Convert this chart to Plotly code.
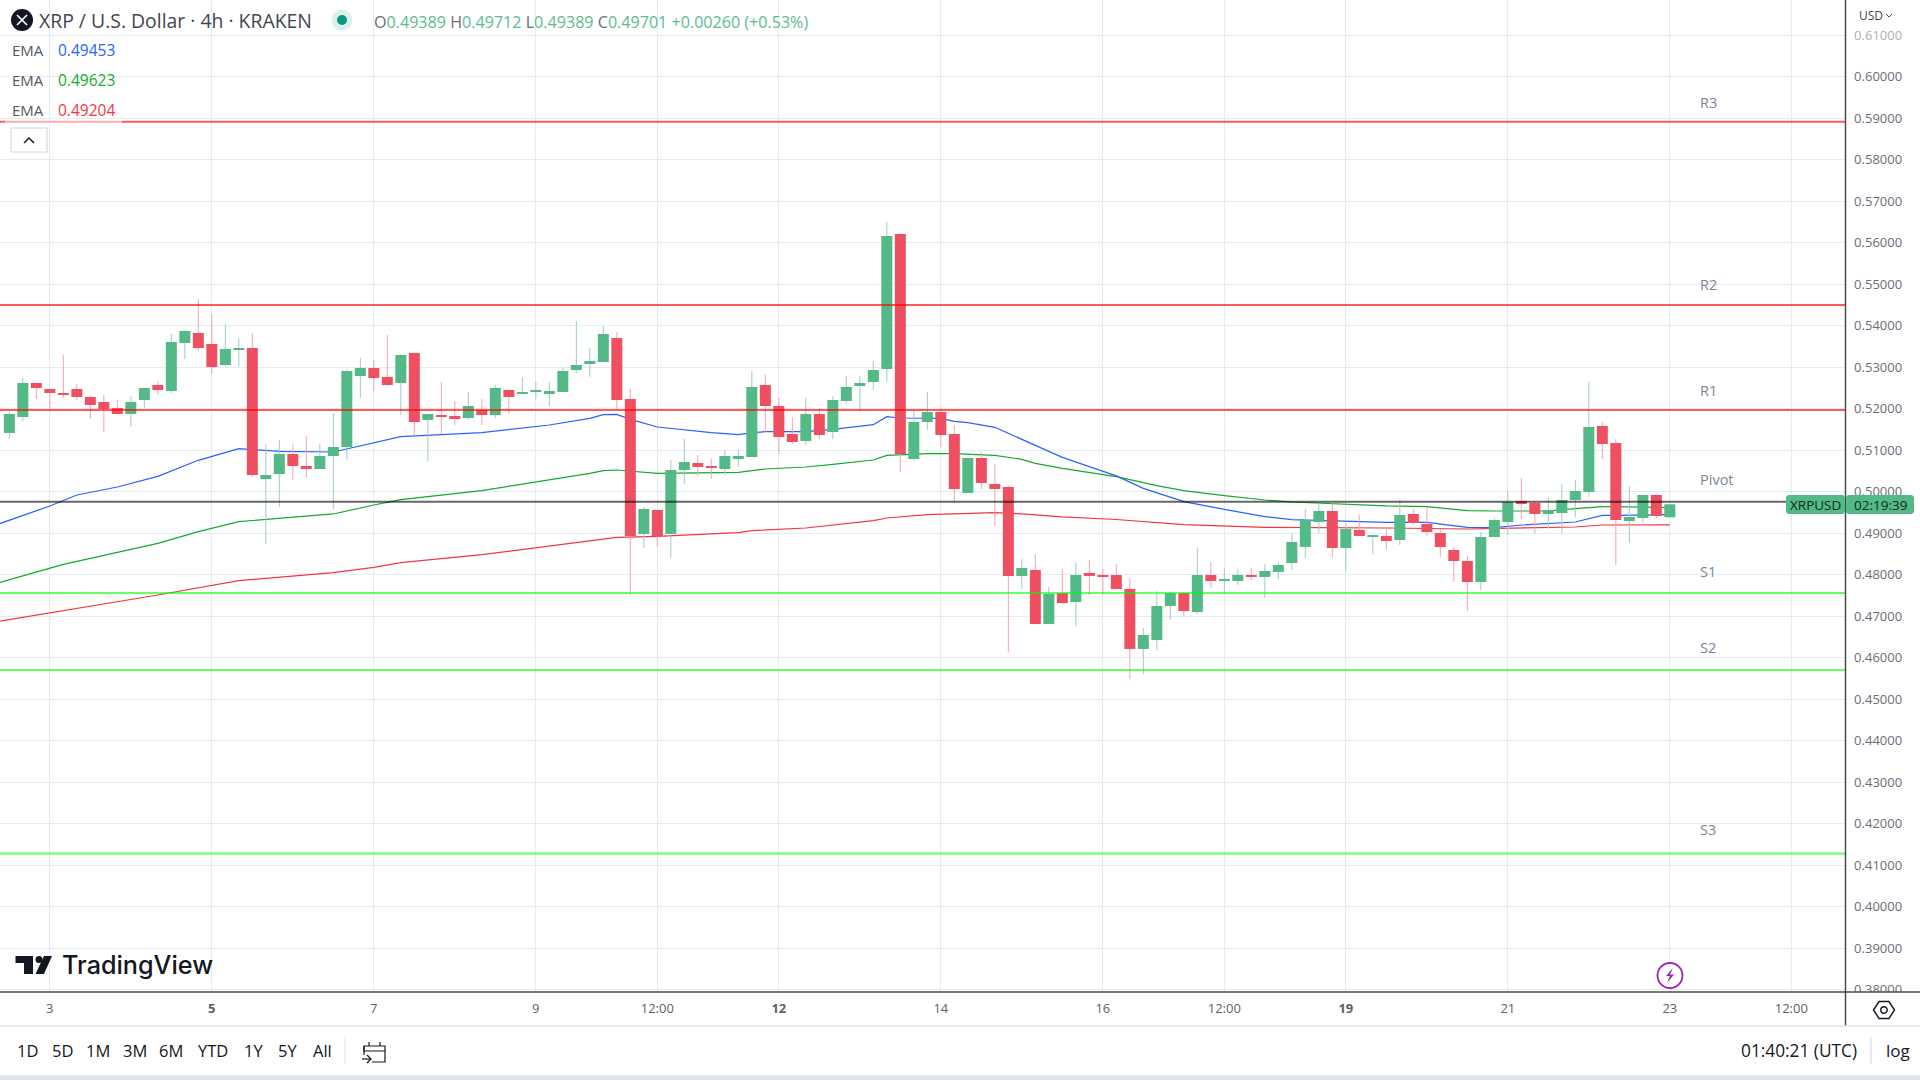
import plotly.graph_objects as go

# ---------- data ----------
opens = [.51419,.51805,.52624,.52480,.52383,.52480,.52287,.52166,.52022,.51877,.52215,.52576,.52431,.53588,.53829,.53564,.53058,.53419,.53467,.50311,
.50431,.50913,.50624,.50552,.50865,.51082,.52793,.52986,.52769,.52624,.53347,.51733,.51829,.51829,.51781,.51974,.51853,.52456,.52359,.52407,
.52359,.52407,.52937,.53082,.53130,.53708,.52239,.48986,.49564,.48986,.50528,.50697,.50600,.50552,.50793,.50841,.52576,.52070,.51395,.51227,
.51877,.51443,.52190,.52552,.52648,.52962,.56215,.50793,.51685,.51926,.51395,.49974,.50817,.50191,.50118,.47974,.48118,.46817,.47564,.47347,
.48046,.47974,.47998,.47661,.46215,.46432,.47251,.47564,.47106,.47998,.47853,.47853,.47998,.47950,.48070,.48287,.48673,.49275,.49540,.48649,
.49082,.48914,.48938,.48841,.49468,.49226,.49009,.48600,.48335,.47829,.48913,.49274,.49780,.49732,.49467,.49491,.49804,.49997,.51588,.51178,
.49299,.49371,.49925,.49389]
highs = [.51933,.52745,.52624,.52480,.53299,.52600,.52311,.52335,.52215,.52311,.52504,.52672,.53805,.53901,.54648,.54287,.54046,.53684,.53829,.51154,
.51251,.51154,.51347,.51154,.51901,.52961,.53227,.53178,.53781,.53323,.53371,.51877,.52648,.52190,.52407,.52239,.52576,.52456,.52769,.52648,
.52648,.53010,.54118,.53467,.53998,.53853,.52480,.49636,.49564,.50769,.51275,.50889,.50793,.51010,.51010,.52913,.52817,.52263,.51805,.52263,
.52022,.52311,.52793,.52793,.53154,.56504,.56239,.51974,.52408,.52022,.51612,.50817,.50962,.50673,.50142,.48383,.48504,.47709,.48142,.48311,
.48359,.48142,.48263,.47926,.46721,.47612,.47588,.47588,.48649,.48311,.48167,.48142,.48167,.48263,.48311,.48986,.49588,.49733,.49733,.49227,
.49444,.48962,.49130,.49805,.49588,.49636,.49106,.48672,.48455,.49033,.49371,.50021,.50335,.49780,.49853,.50190,.50286,.52648,.51684,.51274,
.50142,.49925,.49949,.49712]
lows = [.51275,.51708,.52239,.51974,.52263,.52215,.51757,.51443,.51877,.51564,.52022,.52335,.52383,.53202,.53395,.52841,.53034,.53034,.50359,.48745,
.49636,.50287,.50359,.50552,.49588,.50769,.52263,.52431,.52552,.51853,.51347,.50745,.51395,.51612,.51733,.51612,.51781,.51877,.52359,.52239,
.52070,.52407,.52865,.52769,.53130,.51974,.47516,.48648,.48672,.48431,.50190,.50383,.50311,.50407,.50600,.50841,.51443,.50913,.51154,.51130,
.51275,.51275,.52118,.51950,.52456,.52673,.50480,.50745,.51492,.51082,.49781,.49974,.50070,.49179,.46143,.47661,.46817,.46817,.47299,.46769,
.47516,.47516,.47661,.45492,.45612,.46191,.46914,.46986,.47058,.47685,.47540,.47757,.47877,.47444,.47902,.48118,.48408,.49010,.48432,.48094,
.48938,.48504,.48624,.48721,.49203,.48937,.48431,.47829,.47130,.47636,.48913,.48961,.49347,.49009,.49106,.49009,.49395,.49877,.50793,.48238,
.48768,.49250,.49371,.49389]
closes = [.51877,.52624,.52504,.52383,.52335,.52287,.52094,.51998,.51877,.52166,.52504,.52456,.53612,.53877,.53467,.53010,.53443,.53467,.50407,.50407,
.50913,.50624,.50552,.50865,.51082,.52913,.52986,.52745,.52576,.53299,.51684,.51877,.51805,.51757,.52070,.51853,.52504,.52287,.52407,.52456,
.52431,.52913,.53058,.53154,.53805,.52215,.48937,.49588,.48937,.50528,.50721,.50600,.50576,.50865,.50865,.52528,.52070,.51323,.51202,.51877,
.51371,.52215,.52528,.52624,.52937,.56167,.50914,.51685,.51926,.51371,.50070,.50817,.50215,.50070,.47974,.48167,.46817,.47540,.47323,.47998,
.47974,.47950,.47661,.46215,.46552,.47251,.47564,.47130,.47998,.47853,.47877,.47998,.47950,.48094,.48239,.48793,.49323,.49540,.48649,.49106,
.48938,.48938,.48817,.49444,.49251,.49033,.48672,.48335,.47829,.48913,.49323,.49756,.49732,.49467,.49564,.49804,.50021,.51564,.51154,.49323,
.49395,.49925,.49419,.49701]
candle_index = list(range(len(opens)))

ema_blue_x = [-1,3,5,8,11,14,17,20,24,27,29,32,35,40,43,44,45,46,48,52,54,55,56,59,61,64,65,66,69,70,71,73,75,76,78,80,82,84,87,90,93,95,99,102,105,108,110,112,116,118,119,123]
ema_blue = [.49203,.49660,.49925,.50118,.50375,.50761,.51042,.50977,.50961,.51194,.51331,.51379,.51427,.51612,.51773,.51861,.51869,.51749,.51564,.51427,.51379,.51427,.51451,.51451,.51508,.51620,.51813,.51781,.51773,.51701,.51669,.51556,.51267,.51106,.50833,.50608,.50385,.50086,.49765,.49580,.49404,.49331,.49299,.49266,.49266,.49146,.49138,.49202,.49274,.49435,.49435,.49453]
ema_green_x = [-1,4,11,14,17,22,24,27,29,35,40,43,44,45,48,52,54,56,59,61,64,65,68,70,73,75,76,78,80,82,85,87,90,93,95,99,102,105,108,110,114,116,118,119,123]
ema_green = [.47790,.48255,.48761,.49042,.49283,.49419,.49468,.49684,.49813,.50030,.50287,.50447,.50512,.50528,.50447,.50463,.50472,.50552,.50600,.50664,.50769,.50881,.50921,.50922,.50881,.50785,.50689,.50568,.50472,.50367,.50150,.50030,.49910,.49805,.49757,.49701,.49661,.49644,.49548,.49540,.49540,.49596,.49644,.49644,.49623]
ema_red_x = [-1,9,11,17,24,27,29,35,40,45,48,54,55,57,59,64,65,68,70,73,75,78,82,87,93,99,102,108,110,116,118,123]
ema_red = [.46870,.47410,.47516,.47861,.48054,.48183,.48295,.48488,.48696,.48905,.48930,.49018,.49066,.49106,.49130,.49307,.49371,.49450,.49476,.49500,.49472,.49396,.49335,.49211,.49146,.49138,.49130,.49106,.49120,.49154,.49202,.49204]

level_names = ["R3","R2","R1","Pivot","S1","S2","S3"]
level_values = [.58920,.54504,.51973,.49764,.47564,.45708,.41287]

x_tick_index = [3,15,27,39,48,57,69,81,90,99,111,123,132]
x_tick_labels = ["3","<b>5</b>","7","9","12:00","<b>12</b>","14","16","12:00","<b>19</b>","21","23","12:00"]
y_ticks = [round(.38+.01*i,2) for i in range(24)]
range_buttons = ["1D","5D","1M","3M","6M","YTD","1Y","5Y","All"]

# ---------- styles ----------
W, H = 1920, 1080
PL, PT, PR, PB = 1846, 0, 74, 88
PH = H - PB
UP, DOWN = "#53B987", "#EF5061"
UPW, DOWNW = "rgba(160,200,200,0.98)", "rgba(248,160,172,0.98)"
FONT = "Open Sans, sans-serif"

def px(v): return v / PL
def py(v): return (PH - v) / PH

shapes = []
ann = []
def rect(x0, y0, x1, y1, fill=None, line=None, lw=1):
    shapes.append(dict(type="rect", xref="paper", yref="paper", x0=px(x0), x1=px(x1), y0=py(y1), y1=py(y0),
                       fillcolor=fill or "rgba(0,0,0,0)", line=dict(color=line or "rgba(0,0,0,0)", width=lw if line else 0)))
def circ(cx, cy, r, fill=None, line=None, lw=1):
    shapes.append(dict(type="circle", xref="paper", yref="paper", x0=px(cx-r), x1=px(cx+r), y0=py(cy+r), y1=py(cy-r),
                       fillcolor=fill or "rgba(0,0,0,0)", line=dict(color=line or "rgba(0,0,0,0)", width=lw if line else 0)))
def seg(x0, y0, x1, y1, color, lw=1):
    shapes.append(dict(type="line", xref="paper", yref="paper", x0=px(x0), x1=px(x1), y0=py(y0), y1=py(y1), line=dict(color=color, width=lw)))
def poly(pts, fill=None, line=None, lw=1, close=True):
    d = "M" + " L".join(f"{px(a):.5f},{py(b):.5f}" for a, b in pts) + (" Z" if close else "")
    shapes.append(dict(type="path", xref="paper", yref="paper", path=d, fillcolor=fill or "rgba(0,0,0,0)",
                       line=dict(color=line or "rgba(0,0,0,0)", width=lw if line else 0)))
def note(x, y, text, size=14, color="#131722", anchor="left", family=FONT, weight=None):
    f = dict(size=size, color=color, family=family)
    if weight: f["weight"] = weight
    ann.append(dict(xref="paper", yref="paper", x=px(x), y=py(y), text=text, showarrow=False, xanchor=anchor, yanchor="middle",
                    font=f, align="left"))

for v, name in zip(level_values, level_names):
    color = "rgba(255,0,0,0.65)" if name.startswith("R") else ("rgba(0,255,0,0.6)" if name.startswith("S") else "rgba(0,0,0,0.6)")
    shapes.append(dict(type="line", xref="paper", yref="y", x0=0, x1=1, y0=v, y1=v, line=dict(color=color, width=2)))
label_shift = [19, 20.5, 20, 22, 21.5, 23, 24]
for v, name, s in zip(level_values, level_names, label_shift):
    ann.append(dict(xref="x", yref="y", x=125.05, y=v, yshift=s, text=name, showarrow=False, xanchor="left", yanchor="middle",
                    font=dict(size=14.5, color="#76879A", family=FONT)))

rect(5, 119, 122, 125, fill="rgba(255,255,255,0.5)")
shapes.append(dict(type="rect", xref="paper", yref="paper", x0=px(11), x1=px(47), y0=py(152), y1=py(128),
                   fillcolor="white", line=dict(color="#D1D4DC", width=1)))
poly([(24, 143), (29, 138), (34, 143)], line="#131722", lw=1.5, close=False)

rect(1847, 992, W, 1025, fill="white")
rect(1847, 22, W, 46, fill="rgba(255,255,255,0.45)")
seg(0, 992, W, 992, "#4A4A4A", 1.5)
seg(1845.5, 0, 1845.5, 1026, "#4A4A4A", 1.5)
seg(0, 1026, W, 1026, "#E0E3EB", 1.5)
rect(0, 1075, W, 1080, fill="#E0E3EB")
seg(345, 1037, 345, 1064, "#E0E3EB", 1)
seg(1871, 1037, 1871, 1064, "#E8EAF0", 2)

circ(22, 20, 11, fill="#131722")
seg(17, 15, 27, 25, "white", 1.6); seg(27, 15, 17, 25, "white", 1.6)
circ(342, 20, 10.5, fill="#DDF1EC")
circ(342, 20, 5, fill="#089981")

poly([(15.5, 956), (33, 956), (33, 974), (24, 974), (24, 963), (15.5, 963)], fill="#131722")
circ(39, 959.5, 3.5, fill="#131722")
poly([(44, 956), (52, 956), (44, 974), (35.5, 974)], fill="#131722")

circ(1670, 975.5, 12.5, line="#9C27B0", lw=1.8)
poly([(1673, 968), (1666, 976), (1670, 976), (1667, 983), (1674, 974.5), (1670, 974.5)], fill="#9C27B0")

poly([(1873.5, 1010), (1879, 1001.5), (1889, 1001.5), (1894.5, 1010), (1889, 1018.5), (1879, 1018.5)], line="#131722", lw=1.4)
circ(1884, 1010, 3.2, line="#131722", lw=1.4)

poly([(372, 1062), (385, 1062), (385, 1046), (364, 1046), (364, 1055)], line="#131722", lw=1.2, close=False)
poly([(364, 1046), (364, 1051), (385, 1051)], line="#131722", lw=1.2, close=False)
seg(369, 1042, 369, 1046, "#131722", 1.2); seg(380, 1042, 380, 1046, "#131722", 1.2)
seg(362, 1059, 371, 1059, "#131722", 1.2)
poly([(367, 1055), (371, 1059), (367, 1063)], line="#131722", lw=1.2, close=False)

for x0, x1 in ((1786, 1845), (1846, 1914)):
    shapes.append(dict(type="path", xref="paper", yref="paper", fillcolor=UP, line=dict(width=0),
                       path=f"M{px(x0+2):.5f},{py(495):.5f} L{px(x1-2):.5f},{py(495):.5f} L{px(x1):.5f},{py(497):.5f} L{px(x1):.5f},{py(512):.5f} "
                            f"L{px(x1-2):.5f},{py(514):.5f} L{px(x0+2):.5f},{py(514):.5f} L{px(x0):.5f},{py(512):.5f} L{px(x0):.5f},{py(497):.5f} Z"))

note(37, 21, "XRP / U.S. Dollar · 4h · KRAKEN", 19.4, "#434651")
g = "#5DBB8E"
def ohlc(l, v): return f'<span style="color:#6A6D78">{l}</span><span style="color:{g}">{v}</span>'
note(372, 22, " ".join([ohlc("O", "0.49389"), ohlc("H", "0.49712"), ohlc("L", "0.49389"), ohlc("C", "0.49701"),
                        f'<span style="color:{g}">+0.00260 (+0.53%)</span>']), 16.1, g)
for yy, val, c in ((50, "0.49453", "#2962FF"), (80, "0.49623", "#12AB2A"), (110, "0.49204", "#F23645")):
    note(9.5, yy, "EMA", 15, "#555862")
    note(56, yy, val, 15.5, c)
note(1857, 16, "USD", 12, "#434651")
poly([(1886, 14), (1889, 17), (1892, 14)], line="#434651", lw=1, close=False)
note(59.5, 965, "TradingView", 25.2, "#131722", family="Inter, sans-serif", weight=500)
note(1815.5, 504.5, "XRPUSD", 13.5, "#102A20", "center")
note(1880, 504.5, "02:19:39", 13.5, "#102A20", "center")
for x, t in zip((27.7, 62.5, 98, 135, 171, 213, 253, 287, 322), range_buttons):
    note(x, 1050, t, 16.5, "#131722", "center")
note(1739, 1050, "01:40:21 (UTC)", 17.3, "#131722")
note(1884, 1050, "log", 17, "#131722")

# ---------- figure ----------
body_base = [min(o, c) for o, c in zip(opens, closes)]
body_size = [abs(c - o) for o, c in zip(opens, closes)]
wick_size = [h - l for h, l in zip(highs, lows)]
is_up = [c >= o for o, c in zip(opens, closes)]

fig = go.Figure()
for xs, ys, col in ((ema_red_x, ema_red, "#F23645"), (ema_green_x, ema_green, "#12AB2A"), (ema_blue_x, ema_blue, "#2962FF")):
    fig.add_trace(go.Scatter(x=xs, y=ys, mode="lines", line=dict(color=col, width=1.2), zorder=1, hoverinfo="skip"))
fig.add_trace(go.Bar(x=candle_index, y=wick_size, base=lows, width=1/13.5, zorder=2, hoverinfo="skip",
                     marker=dict(color=[UPW if u else DOWNW for u in is_up], line=dict(width=0))))
fig.add_trace(go.Bar(x=candle_index, y=body_size, base=body_base, width=0.815, zorder=2, hoverinfo="skip",
                     marker=dict(color=[UP if u else DOWN for u in is_up], line=dict(width=0))))

fig.update_layout(
    width=W, height=H, showlegend=False, barmode="overlay", plot_bgcolor="white", paper_bgcolor="white",
    margin=dict(l=0, r=PR, t=PT, b=PB, pad=0), shapes=shapes, annotations=ann, font=dict(family=FONT),
    xaxis=dict(range=[-0.691, 136.05], tickmode="array", tickvals=x_tick_index, ticktext=x_tick_labels,
               showgrid=True, gridcolor="#E3ECF2", gridwidth=1, zeroline=False, showline=False,
               ticks="outside", ticklen=4.5, tickcolor="rgba(0,0,0,0)",
               tickfont=dict(size=13, color="#5D606B", family=FONT), fixedrange=True),
    yaxis=dict(range=[.37949, .61853], side="right", tickmode="array", tickvals=y_ticks, tickformat=".5f",
               showgrid=True, gridcolor="#E3ECF2", gridwidth=1, zeroline=False, showline=False, ticks="outside", ticklen=4.5,
               tickcolor="rgba(0,0,0,0)", tickfont=dict(size=13, color="#6A6D78", family=FONT), fixedrange=True),
)
fig.write_html("out.html", config={"displayModeBar": False},
               post_script="document.body.style.margin='0';document.body.style.overflow='hidden';")
